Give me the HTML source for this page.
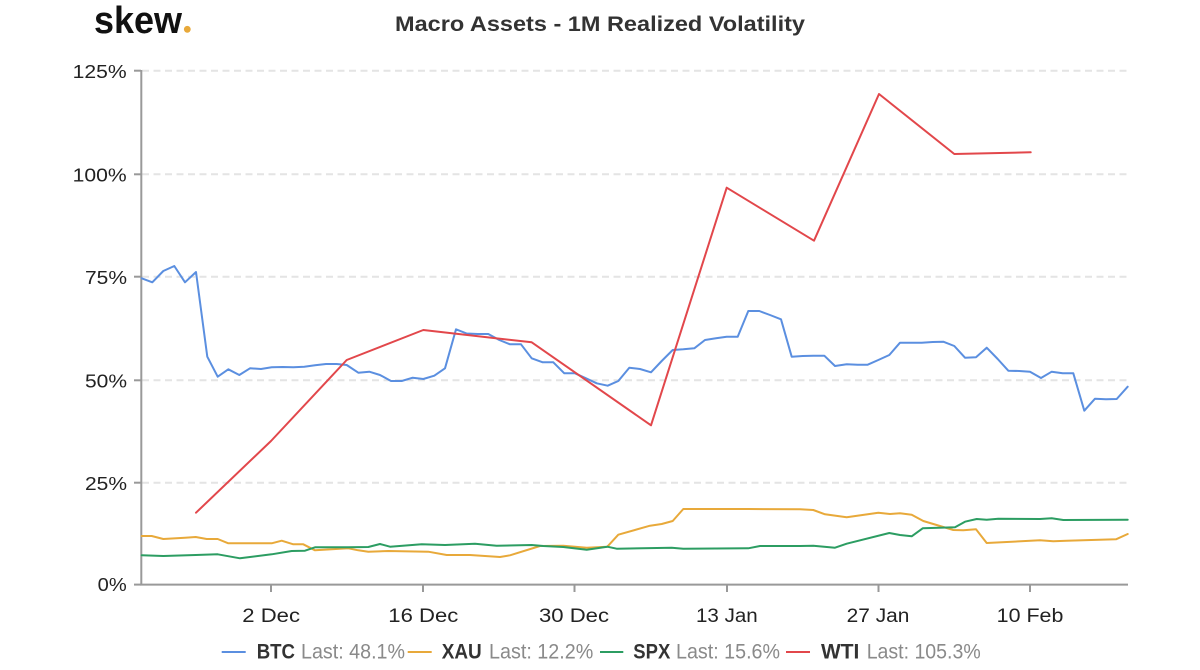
<!DOCTYPE html>
<html>
<head>
<meta charset="utf-8">
<style>
  html, body { margin: 0; padding: 0; background: #ffffff; }
  svg { display: block; }
  text { font-family: "Liberation Sans", "DejaVu Sans", sans-serif; }
</style>
</head>
<body>
<svg width="1200" height="670" viewBox="0 0 1200 670" xmlns="http://www.w3.org/2000/svg">
  <rect x="0" y="0" width="1200" height="670" fill="#ffffff"/>

  <!-- Logo -->
  <text x="94" y="33" font-size="38" font-weight="bold" fill="#111111" textLength="88" lengthAdjust="spacingAndGlyphs">skew</text>
  <circle cx="187.3" cy="29.3" r="3.4" fill="#e8a93a"/>

  <!-- Title -->
  <text x="395" y="31" font-size="21" font-weight="bold" fill="#333333" textLength="410" lengthAdjust="spacingAndGlyphs">Macro Assets - 1M Realized Volatility</text>

  <!-- Grid lines -->
  <g stroke="#e4e4e4" stroke-width="2" stroke-dasharray="7,4.5" fill="none">
    <line x1="142" y1="70.7" x2="1128" y2="70.7"/>
    <line x1="142" y1="174.3" x2="1128" y2="174.3"/>
    <line x1="142" y1="276.7" x2="1128" y2="276.7"/>
    <line x1="142" y1="380.3" x2="1128" y2="380.3"/>
    <line x1="142" y1="482.7" x2="1128" y2="482.7"/>
  </g>

  <!-- Axes -->
  <g stroke="#999999" stroke-width="2" fill="none">
    <line x1="141.3" y1="70" x2="141.3" y2="585.5"/>
    <line x1="140.3" y1="584.6" x2="1128" y2="584.6"/>
    <!-- y ticks -->
    <line x1="134" y1="70.7" x2="141" y2="70.7"/>
    <line x1="134" y1="174.3" x2="141" y2="174.3"/>
    <line x1="134" y1="276.7" x2="141" y2="276.7"/>
    <line x1="134" y1="380.3" x2="141" y2="380.3"/>
    <line x1="134" y1="482.7" x2="141" y2="482.7"/>
    <line x1="134" y1="584.6" x2="141" y2="584.6"/>
    <!-- x ticks -->
    <line x1="271" y1="584.6" x2="271" y2="592"/>
    <line x1="423" y1="584.6" x2="423" y2="592"/>
    <line x1="574.5" y1="584.6" x2="574.5" y2="592"/>
    <line x1="727" y1="584.6" x2="727" y2="592"/>
    <line x1="878.5" y1="584.6" x2="878.5" y2="592"/>
    <line x1="1030" y1="584.6" x2="1030" y2="592"/>
  </g>

  <!-- Y labels -->
  <g font-size="18.5" fill="#222222">
    <text x="72.7" y="78" textLength="54" lengthAdjust="spacingAndGlyphs">125%</text>
    <text x="72.7" y="181.5" textLength="54" lengthAdjust="spacingAndGlyphs">100%</text>
    <text x="85" y="284" textLength="42" lengthAdjust="spacingAndGlyphs">75%</text>
    <text x="85" y="387.5" textLength="42" lengthAdjust="spacingAndGlyphs">50%</text>
    <text x="85" y="490" textLength="42" lengthAdjust="spacingAndGlyphs">25%</text>
    <text x="97.7" y="591" textLength="29" lengthAdjust="spacingAndGlyphs">0%</text>
  </g>

  <!-- X labels -->
  <g font-size="19" fill="#222222">
    <text x="242.3" y="622" textLength="57.7" lengthAdjust="spacingAndGlyphs">2 Dec</text>
    <text x="388.3" y="622" textLength="70" lengthAdjust="spacingAndGlyphs">16 Dec</text>
    <text x="539" y="622" textLength="70" lengthAdjust="spacingAndGlyphs">30 Dec</text>
    <text x="696" y="622" textLength="61.7" lengthAdjust="spacingAndGlyphs">13 Jan</text>
    <text x="846.7" y="622" textLength="62.7" lengthAdjust="spacingAndGlyphs">27 Jan</text>
    <text x="996.7" y="622" textLength="66.7" lengthAdjust="spacingAndGlyphs">10 Feb</text>
  </g>

  <!-- Series -->
  <g fill="none" stroke-width="2" stroke-linejoin="round" stroke-linecap="round">
    <!-- BTC -->
    <polyline stroke="#5b8fe0" points="141.7,278.3 152.3,282.3 163.3,271 174.3,266 185,282.3 196,272 207.3,356.7 217.7,376.7 228.3,369.3 239.3,375 250,368.3 261,369 271.7,367.3 282.7,367 293.3,367.3 304.3,366.7 315,365.3 326,364 336.7,364 346.7,365 358.3,372.7 369.3,371.7 380,375 391,381 401.7,381 412.7,377.7 423.3,379 434.3,375.7 445,368.3 456,329.3 466.7,333.5 477.7,334 488.3,334 499.3,340 510,344.3 521,344.3 531.7,358.3 542.7,362.3 553.3,362.3 564.3,373.3 575,373.3 586,378.3 596.7,383.3 607.7,385.7 618.3,381 629.3,367.7 640,369 651,372.3 661.7,361 672.7,350 683.3,349.3 694.3,348.3 705,340 716,338.3 726.7,336.7 737.7,336.7 748.3,311 759.3,311 770,315 781,319.3 791.7,356.7 802.7,356 813.3,355.7 824.3,355.7 835,366 846.7,364.3 857.7,364.7 867.7,364.7 878.3,360 889.3,355 900,342.7 911,342.7 921.7,342.7 932.7,342 943.3,341.7 954.3,346 965,357.7 976,357.3 986.7,347.7 997.7,359 1008.3,370.7 1019.3,371 1030,371.7 1041,378 1051.7,371.7 1062.7,373.3 1073.3,373.3 1084.3,410.7 1095,398.7 1106,399.3 1116.7,399 1127.7,386.7"/>
    <!-- XAU -->
    <polyline stroke="#e8a93a" points="141.7,536 151.7,536 163.3,539 185,537.7 195.7,537 206.7,539 217.7,539 228.3,543.3 271.7,543.3 281.7,540.7 293.3,544.3 303.3,544.3 315,550.3 348.3,548.3 358.3,550.3 368.3,551.7 388.3,551 428.3,551.7 446.7,555 470,555 500,557 510,555.3 540,546 563.3,545.7 586.7,547.7 607.3,546.7 618.3,534.7 650,525.7 661.7,524 672.7,521 683.3,509 748.3,509 800,509.3 813.3,510 825,514.3 846.7,517.3 878.3,512.7 890,514 900,513.3 911.7,514.7 923.3,521 953.3,530 963.3,530.3 976,529.3 986.7,543 1040,540.3 1053.3,541.3 1066.7,540.7 1116,539.3 1127.7,534"/>
    <!-- SPX -->
    <polyline stroke="#2c9d62" points="141.7,555.3 163.3,556 195.7,555 217.7,554.3 240,558.3 271.7,554.3 291.7,551 305,550.7 315,547.3 348.3,547.3 368.3,547 380,544 390,546.7 421.7,544.3 445,545 475,543.7 496.7,545.7 531.7,545 543.3,546 563.3,547 586.7,549.7 607.3,546.7 616.7,548.7 671.7,547.7 683.3,548.7 748.3,548.3 760,546 800,546 813.3,545.7 835,547.7 846.7,543.7 889.3,533 900,535 911.7,536.3 922.7,528.3 955,527.3 965,521.7 976.7,519 986.7,519.7 998.3,518.7 1040,519 1051.7,518.3 1063.3,520 1127.7,519.7"/>
    <!-- WTI -->
    <polyline stroke="#e2474b" points="196,512.7 271,441 346.7,360 423.3,330 531.7,342.3 651,425.3 726.7,187.7 814,240.7 879,94 954.3,154 1030.7,152.3"/>
  </g>

  <!-- Legend -->
  <g stroke-width="2">
    <line x1="221.7" y1="652" x2="245.7" y2="652" stroke="#5b8fe0"/>
    <line x1="407.7" y1="652" x2="431.7" y2="652" stroke="#e8a93a"/>
    <line x1="600" y1="652" x2="623.3" y2="652" stroke="#2c9d62"/>
    <line x1="786" y1="652" x2="810" y2="652" stroke="#e2474b"/>
  </g>
  <g font-size="21">
    <text x="256.7" y="658.3" font-weight="bold" fill="#333333" textLength="38.3" lengthAdjust="spacingAndGlyphs">BTC</text>
    <text x="301" y="658.3" fill="#8a8a8a" textLength="104" lengthAdjust="spacingAndGlyphs">Last: 48.1%</text>
    <text x="441.7" y="658.3" font-weight="bold" fill="#333333" textLength="40" lengthAdjust="spacingAndGlyphs">XAU</text>
    <text x="489" y="658.3" fill="#8a8a8a" textLength="104.3" lengthAdjust="spacingAndGlyphs">Last: 12.2%</text>
    <text x="633.3" y="658.3" font-weight="bold" fill="#333333" textLength="37" lengthAdjust="spacingAndGlyphs">SPX</text>
    <text x="676" y="658.3" fill="#8a8a8a" textLength="104" lengthAdjust="spacingAndGlyphs">Last: 15.6%</text>
    <text x="821" y="658.3" font-weight="bold" fill="#333333" textLength="38.3" lengthAdjust="spacingAndGlyphs">WTI</text>
    <text x="866.7" y="658.3" fill="#8a8a8a" textLength="114" lengthAdjust="spacingAndGlyphs">Last: 105.3%</text>
  </g>
</svg>
</body>
</html>
